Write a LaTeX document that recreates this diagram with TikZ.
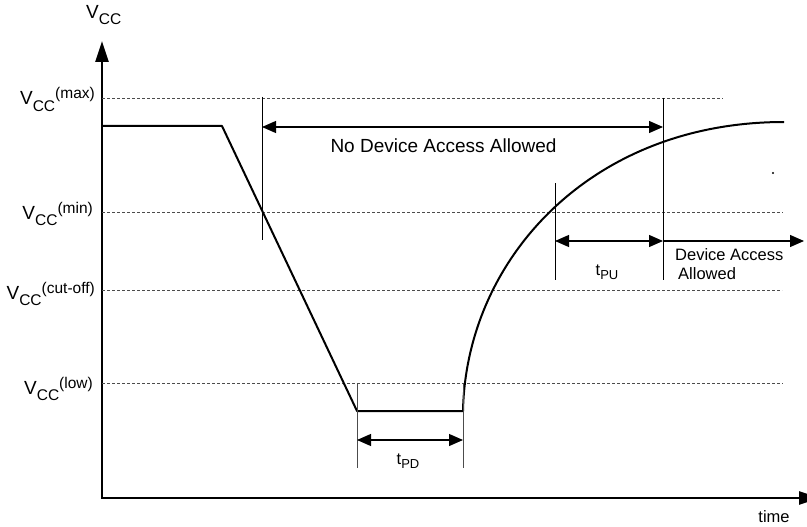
\documentclass[tikz,border=0pt]{standalone}
\usepackage{fontspec}
\setmainfont{Liberation Sans}
\usetikzlibrary{arrows.meta}

% sub- and superscripts as the chart sets them
\newcommand\vsub[1]{\raisebox{-6pt}{\fontsize{15.5}{16}\selectfont #1}}
\newcommand\vsup[1]{\raisebox{6pt}{\fontsize{15.5}{16}\selectfont #1}}
\newcommand\tsub[1]{\raisebox{-4pt}{\fontsize{13}{14}\selectfont #1}}

\begin{document}
\begin{tikzpicture}[x=1pt, y=-1pt,
    axis/.style={line width=2.5pt, line join=miter, {Triangle[length=21pt,width=13pt]}-{Triangle[length=21pt,width=13pt]}},
    level/.style={densely dashed, black!70, line width=0.9pt},
    marker/.style={line width=1pt},
    span/.style={line width=1.2pt, {Triangle[length=14pt,width=12pt]}-{Triangle[length=14pt,width=12pt]}},
    lbl/.style={inner sep=0pt, font=\fontsize{19}{22}\selectfont},
    sml/.style={inner sep=0pt, font=\fontsize{16.5}{19}\selectfont}]

    \useasboundingbox (0,0) rectangle (807,527);

    % Axes
    \coordinate (ytop) at (102,41);
    \coordinate (origin) at (102,498);
    \coordinate (xend) at (820,498);
    \draw[axis] (ytop) -- (origin) -- (xend);
    \node[lbl, anchor=base west] (vcc) at (86,19) {V\vsub{CC}};
    \node[sml, anchor=base] (time) at (774,522) {time};

    % Voltage levels
    \node[lbl, anchor=base east] (vmax) at (95,105) {V\vsub{CC}\vsup{(max)}};
    \node[lbl, anchor=base east] (vmin) at (93,219) {V\vsub{CC}\vsup{(min)}};
    \node[lbl, anchor=base east] (vcut) at (95,299) {V\vsub{CC}\vsup{(cut-off)}};
    \node[lbl, anchor=base east] (vlow) at (93,394) {V\vsub{CC}\vsup{(low)}};
    \coordinate (max-a) at (102,98);  \coordinate (max-b) at (723,98);
    \coordinate (min-a) at (102,212); \coordinate (min-b) at (783,212);
    \coordinate (cut-a) at (102,290); \coordinate (cut-b) at (782,290);
    \coordinate (low-a) at (102,383); \coordinate (low-b) at (783,383);
    \draw[level] (max-a) -- (max-b);
    \draw[level] (min-a) -- (min-b);
    \draw[level] (cut-a) -- (cut-b);
    \draw[level] (low-a) -- (low-b);

    % Supply voltage
    \coordinate (start) at (102,126);
    \coordinate (drop) at (222,126);
    \coordinate (bottom-l) at (357,411);
    \coordinate (bottom-r) at (463,411);
    \coordinate (settle) at (784,122);
    \draw[line width=2pt, line join=round] (start) -- (drop) -- (bottom-l) -- (bottom-r)
        .. controls (466,260) and (590,122) .. (settle);
    \coordinate (speck) at (773,173);
    \fill (speck) circle (1.2pt);

    % Markers
    \coordinate (m1a) at (262,97);  \coordinate (m1b) at (262,240);
    \coordinate (m2a) at (663,98);  \coordinate (m2b) at (663,280);
    \coordinate (m3a) at (555,183); \coordinate (m3b) at (555,280);
    \coordinate (m4a) at (357,383); \coordinate (m4b) at (357,468);
    \coordinate (m5a) at (463,383); \coordinate (m5b) at (463,468);
    \draw[marker] (m1a) -- (m1b);
    \draw[marker] (m2a) -- (m2b);
    \draw[marker] (m3a) -- (m3b);
    \draw[marker, black!70] (m4a) -- (m4b);
    \draw[marker, black!70] (m5a) -- (m5b);

    % Timing spans
    \coordinate (nda-l) at (262,127); \coordinate (nda-r) at (663,127);
    \coordinate (tpu-l) at (555,241); \coordinate (tpu-r) at (663,241);
    \coordinate (da-r) at (804,241);
    \coordinate (tpd-l) at (357,440); \coordinate (tpd-r) at (463,440);
    \draw[span] (nda-l) -- (nda-r);
    \draw[span] (tpu-l) -- (tpu-r);
    \draw[span, {-Triangle[length=14pt,width=12pt]}] (tpu-r) -- (da-r);
    \draw[span] (tpd-l) -- (tpd-r);
    \node[lbl, anchor=base] (noaccess) at (443.5,153) {No Device Access Allowed};
    \node[sml, anchor=base] (tpu) at (607,275) {t\tsub{PU}};
    \node[sml, anchor=north west, align=left] (access) at (675,248.5) {Device Access\\\hspace{3pt}Allowed};
    \node[sml, anchor=base] (tpd) at (408,464) {t\tsub{PD}};
\end{tikzpicture}
\end{document}
